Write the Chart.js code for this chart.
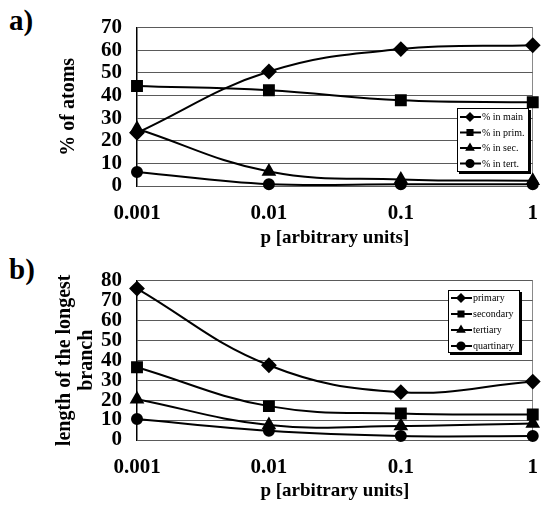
<!DOCTYPE html>
<html>
<head>
<meta charset="utf-8">
<script src="https://cdn.jsdelivr.net/npm/chart.js@4.4.1/dist/chart.umd.min.js"></script>
<style>
  body { margin: 0; background: #fff; }
  #wrap { position: relative; width: 553px; height: 506px; }
  .panel { position: absolute; left: 0; }
  .tag { position: absolute; left: 9px; font: bold 29px 'Liberation Serif', serif; }
</style>
</head>
<body>
<div id="wrap">
  <div class="tag" style="top:4px">a)</div>
  <div class="tag" style="top:253px">b)</div>
  <canvas class="panel" id="chartA" width="553" height="253" style="top:0"></canvas>
  <canvas class="panel" id="chartB" width="553" height="253" style="top:253px"></canvas>
</div>
<script>
// x categories (log steps of p)
const pLabels = ['0.001', '0.01', '0.1', '1'];

// a) % of atoms
const pctMain = [23.5, 50.6, 60.5, 62.2];
const pctPrim = [44.2, 42.3, 37.9, 37.0];
const pctSec = [25.3, 6.4, 2.9, 2.3];
const pctTert = [6.2, 0.8, 0.8, 0.8];
const ticksA = { min: 0, max: 70, step: 10 };

// b) length of the longest branch
const lenPrimary = [76, 37.5, 24, 29.3];
const lenSecondary = [36.5, 17, 13.3, 12.8];
const lenTertiary = [20.5, 7.5, 7, 8.3];
const lenQuart = [10.5, 4.6, 2, 2];
const ticksB = { min: 0, max: 80, step: 10 };

const serif = "'Liberation Serif', 'Times New Roman', serif";

// small boxed legend drawn inside the plot, line + marker like Excel
const boxLegend = {
  id: 'boxLegend',
  afterDraw(chart, args, opts) {
    const ctx = chart.ctx;
    ctx.save();
    ctx.fillStyle = '#000';
    ctx.fillRect(opts.x + 2, opts.y + 2, opts.w, opts.h);
    ctx.fillStyle = '#fff';
    ctx.fillRect(opts.x, opts.y, opts.w, opts.h);
    ctx.strokeStyle = '#000';
    ctx.lineWidth = 1;
    ctx.strokeRect(opts.x + 0.5, opts.y + 0.5, opts.w - 1, opts.h - 1);
    chart.data.datasets.forEach((ds, i) => {
      const cy = opts.y + opts.first + i * opts.rowH;
      ctx.strokeStyle = '#000';
      ctx.lineWidth = 2;
      ctx.beginPath();
      ctx.moveTo(opts.x + 3, cy);
      ctx.lineTo(opts.x + 24, cy);
      ctx.stroke();
      ctx.fillStyle = '#000';
      Chart.helpers.drawPoint(ctx, { pointStyle: ds.pointStyle, radius: 3.6, borderWidth: 1 }, opts.x + 13, cy);
      ctx.fillStyle = '#000';
      ctx.font = '10px ' + serif;
      ctx.textBaseline = 'middle';
      ctx.fillText(ds.label, opts.x + 25, cy + 0.5, opts.w - 27);
    });
    ctx.restore();
  }
};

function series(label, data, style, radius) {
  return {
    label: label,
    data: data,
    borderColor: '#000',
    backgroundColor: '#000',
    borderWidth: 2,
    pointStyle: style,
    pointRadius: radius,
    pointBackgroundColor: '#000',
    pointBorderColor: '#000',
    tension: 0.4,
    clip: false
  };
}

function makeChart(id, datasets, ticks, yTitle, titlePad, legendBox, top) {
  return new Chart(document.getElementById(id), {
    type: 'line',
    data: { labels: pLabels, datasets: datasets },
    plugins: [boxLegend],
    options: {
      responsive: false,
      animation: false,
      layout: { padding: { top: top, right: 3, left: 0, bottom: 0 } },
      plugins: {
        legend: { display: false },
        tooltip: { enabled: false },
        boxLegend: legendBox
      },
      scales: {
        x: {
          offset: false,
          afterFit: s => { s.height = 253 - top - 160; },
          border: { display: false },
          grid: {
            drawTicks: false,
            lineWidth: 1,
            color: c => c.index === 3 ? '#8a8a8a' : 'rgba(0,0,0,0)'
          },
          ticks: { autoSkip: false, color: '#000', padding: 15, maxRotation: 0, font: { family: serif, weight: 'bold', size: 21 } },
          title: {
            display: true,
            text: 'p [arbitrary units]',
            color: '#000',
            padding: { top: 0, bottom: 4 },
            font: { family: serif, weight: 'bold', size: 19 }
          }
        },
        y: {
          min: ticks.min,
          max: ticks.max,
          afterFit: s => { s.width = 137; },
          border: { color: '#000', width: 1.5 },
          grid: { drawTicks: false, color: '#5a5a5a', lineWidth: 1 },
          ticks: { autoSkip: false, stepSize: ticks.step, color: '#000', padding: 15, font: { family: serif, weight: 'bold', size: 21 } },
          title: {
            display: true,
            text: yTitle,
            color: '#000',
            padding: { top: titlePad, bottom: 0 },
            font: { family: serif, weight: 'bold', size: 20, lineHeight: 1.1 }
          }
        }
      }
    }
  });
}

makeChart('chartA', [
  series('% in main', pctMain, 'rectRot', 6.5),
  series('% in prim.', pctPrim, 'rect', 7),
  series('% in sec.', pctSec, 'triangle', 6.5),
  series('% in tert.', pctTert, 'circle', 5)
], ticksA, '% of atoms', 58, { x: 457, y: 108, w: 72, h: 64, first: 9, rowH: 15.5 }, 26);

makeChart('chartB', [
  series('primary', lenPrimary, 'rectRot', 6.5),
  series('secondary', lenSecondary, 'rect', 7),
  series('tertiary', lenTertiary, 'triangle', 6.5),
  series('quartinary', lenQuart, 'circle', 5)
], ticksB, ['length of the longest', 'branch'], 54, { x: 448, y: 37, w: 72, h: 63, first: 8, rowH: 16 }, 27);
</script>
</body>
</html>
